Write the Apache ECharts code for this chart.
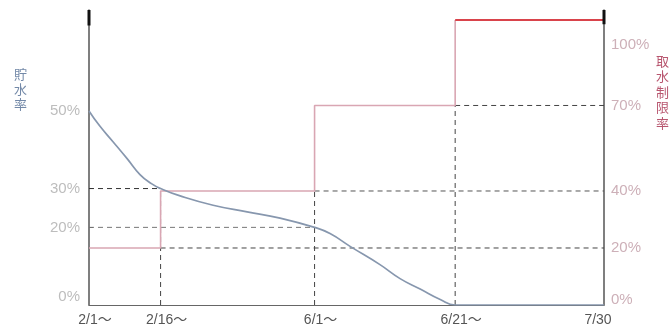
<!DOCTYPE html>
<html>
<head>
<meta charset="utf-8">
<script src="https://cdn.jsdelivr.net/npm/echarts@6/dist/echarts.min.js"></script>
<style>
html,body{margin:0;padding:0;background:#fff;}
#chart{width:672px;height:331px;}
</style>
</head>
<body>
<div id="chart"></div>
<script>
// Stage boundaries (schematic, non-time-linear axis, % of period)
const stageLabels = ['2/1～', '2/16～', '6/1～', '6/21～', '7/30'];
const stagePos = [0, 13.9, 43.8, 71.1, 100];

// Storage rate curve (貯水率, %)
const storageX = [0, 2.1, 4.7, 7.4, 9.9, 12.2, 13.9, 17.7, 24.1, 30.7, 37.1, 43.8, 46.8, 50.7, 56.5, 60.4, 64.3, 68.2, 71.1, 100];
const storageY = [50, 46.1, 42.0, 37.7, 33.6, 31.2, 30, 28.1, 25.7, 24.0, 22.4, 20, 18.4, 15.1, 10.4, 6.8, 4.1, 1.4, 0, 0];

// Water intake restriction rate (取水制限率, %) per stage
const limitLevels = [20, 40, 70, 100];

// Axis tick labels
const leftTicks = [0, 20, 30, 50];
const rightTicks = [0, 20, 40, 70, 100];

const leftMax = 76;
const rightMin = 0, rightMax = 103.5;

const chart = echarts.init(document.getElementById('chart'));

const storageData = storageX.map((x, i) => [x, storageY[i]]);
const pinkData = limitLevels.map((v, i) => [stagePos[i], v]);
const redData = [[stagePos[3], limitLevels[3]], [stagePos[4], limitLevels[3]]];

function dashed(data, yIdx, color) {
  return {
    type: 'line', yAxisIndex: yIdx, data: data, showSymbol: false, silent: true,
    lineStyle: { type: [5, 4], width: 1, color: color || '#333' }, z: 1
  };
}

const series = [
  // dashed guides
  dashed([[stagePos[0], storageY[6]], [stagePos[1], storageY[6]]], 0, '#333'),
  dashed([[stagePos[0], storageY[11]], [stagePos[2], storageY[11]]], 0, '#777'),
  dashed([[stagePos[1], 0], [stagePos[1], storageY[6]]], 0, '#444'),
  dashed([[stagePos[1], limitLevels[0]], [stagePos[4], limitLevels[0]]], 1, '#444'),
  dashed([[stagePos[2], limitLevels[1]], [stagePos[4], limitLevels[1]]], 1, '#555'),
  dashed([[stagePos[3], limitLevels[2]], [stagePos[4], limitLevels[2]]], 1, '#444'),
  dashed([[stagePos[2], rightMin], [stagePos[2], limitLevels[1]]], 1, '#444'),
  dashed([[stagePos[3], rightMin], [stagePos[3], limitLevels[2]]], 1, '#444'),
  {
    type: 'line', yAxisIndex: 1, data: pinkData, step: 'end', showSymbol: false,
    lineStyle: { color: '#d9a6b3', width: 1.6 }, z: 3
  },
  {
    type: 'line', yAxisIndex: 1, data: redData, showSymbol: false,
    lineStyle: { color: '#d9434b', width: 2 }, z: 4
  },
  {
    type: 'line', yAxisIndex: 0, data: storageData, smooth: 0.5, showSymbol: false,
    lineStyle: { color: '#8797ae', width: 1.7 }, z: 5
  },
  // thick caps at top of both vertical axes
  {
    type: 'line', yAxisIndex: 0, data: [[0, leftMax - 4], [0, leftMax]], showSymbol: false,
    lineStyle: { color: '#111', width: 3 }, z: 6
  },
  {
    type: 'line', yAxisIndex: 1, data: [[100, rightMax - 5], [100, rightMax]], showSymbol: false,
    lineStyle: { color: '#111', width: 3 }, z: 6
  }
];

const option = {
  animation: false,
  backgroundColor: '#fff',
  textStyle: { fontFamily: 'Liberation Sans, Arial, "Noto Sans CJK JP", sans-serif' },
  grid: { left: 89, right: 68, top: 10, bottom: 26, outerBoundsMode: 'none', containLabel: false },
  xAxis: {
    type: 'value', min: 0, max: 100,
    axisLine: { lineStyle: { color: '#666', width: 1.2 } },
    axisTick: { show: false },
    splitLine: { show: false },
    axisLabel: {
      customValues: stagePos,
      margin: 8,
      fontSize: 14,
      color: '#555',
      fontFamily: 'Liberation Sans, "Noto Sans CJK JP", sans-serif',
      formatter: function (v) {
        const i = stagePos.indexOf(v);
        if (i < 0) return '';
        if (i === stagePos.length - 1) return stageLabels[i] + '{s|}';
        return '{s|}' + stageLabels[i];
      },
      rich: { s: { width: 12 } }
    }
  },
  yAxis: [
    {
      type: 'value', min: 0, max: leftMax, position: 'left',
      axisLine: { show: true, lineStyle: { color: '#555', width: 1.5 } },
      axisTick: { show: true, inside: true, length: 4, customValues: [20, 30], lineStyle: { color: '#555' } },
      splitLine: { show: false },
      axisLabel: {
        customValues: leftTicks,
        margin: 9, fontSize: 15, color: '#bdbdbd', lineHeight: 16,
        formatter: function (v) { return v === 0 ? v + '%\n ' : v + '%'; }
      }
    },
    {
      type: 'value', min: rightMin, max: rightMax, position: 'right',
      axisLine: { show: true, lineStyle: { color: '#555', width: 1.5 } },
      axisTick: { show: false },
      splitLine: { show: false },
      axisLabel: {
        customValues: rightTicks,
        margin: 7, fontSize: 15, color: '#cdb0b8', lineHeight: 10,
        formatter: function (v) {
          if (v === 0) return v + '%\n ';
          if (v === 100) return ' \n \n \n \n \n' + v + '%';
          return v + '%';
        }
      }
    }
  ],
  graphic: [
    {
      type: 'text', left: 14, top: 67,
      style: { text: '貯\n水\n率', fontSize: 13, lineHeight: 15, fill: '#7389a8', fontFamily: '"Noto Sans CJK JP", sans-serif' }
    },
    {
      type: 'text', left: 656, top: 53,
      style: { text: '取\n水\n制\n限\n率', fontSize: 13, lineHeight: 15.5, fill: '#b8566f', fontFamily: '"Noto Sans CJK JP", sans-serif' }
    }
  ],
  series: series
};

chart.setOption(option);
</script>
</body>
</html>
